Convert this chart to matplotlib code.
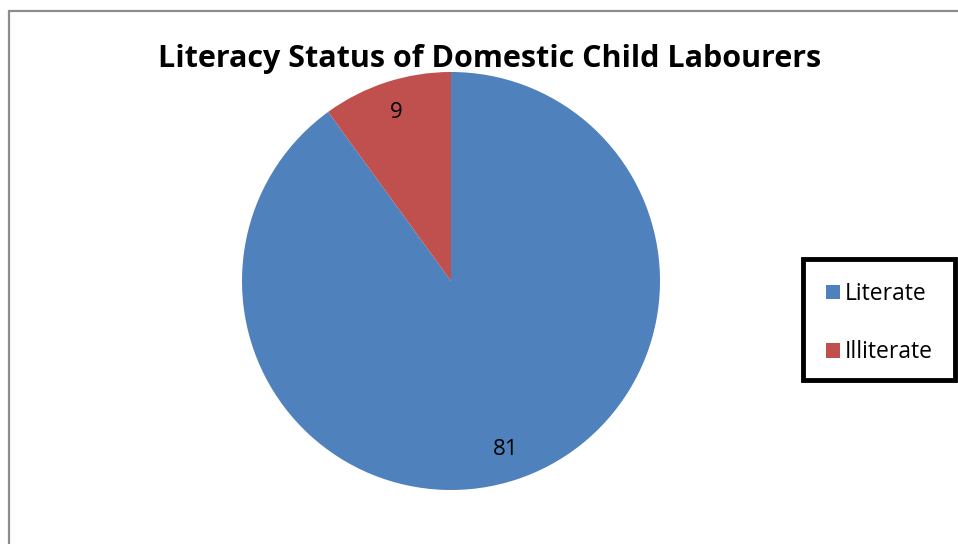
import matplotlib.pyplot as plt
from matplotlib.patches import Rectangle

# Literacy status counts
labels = ["Literate", "Illiterate"]
counts = [81, 9]
colors = ["#4F81BD", "#C0504D"]

title = "Literacy Status of Domestic Child Labourers"

W, H = 958, 544
fig = plt.figure(figsize=(W / 100, H / 100), dpi=100)
plt.rcParams["font.family"] = ["Open Sans", "DejaVu Sans"]

# chart border (gray, runs off the right and bottom edges)
fig.patches.append(Rectangle((9 / W, -0.05), 1.1, (H - 11) / H + 0.05,
                             transform=fig.transFigure, fill=False,
                             edgecolor="#8c8c8c", linewidth=1.6))

# pie axes: centre (451, 281) px, radius 209 px
cx, cy, r = 451, 281, 209
ax = fig.add_axes([(cx - r) / W, (H - cy - r) / H, 2 * r / W, 2 * r / H])
total = sum(counts)
wedges, _, autotexts = ax.pie(
    counts, colors=colors, startangle=90, counterclock=False, radius=1,
    autopct=lambda p: f"{round(p * total / 100)}", pctdistance=0.85,
    textprops={"fontsize": 16, "color": "black"},
    wedgeprops={"linewidth": 0},
)
ax.set_xlim(-1, 1)
ax.set_ylim(-1, 1)
ax.set_aspect("equal")

fig.text(490 / W, 1 - 59 / H, title, ha="center", va="center",
         fontsize=22, fontweight="bold")

# legend with thick black frame
fig.patches.append(Rectangle((803 / W, (H - 380) / H), 152 / W, 121 / H,
                             transform=fig.transFigure, fill=False,
                             edgecolor="black", linewidth=3.5))
fig.legend(wedges, labels, loc="upper left",
           bbox_to_anchor=(826 / W, 1 - 282 / H), frameon=False,
           fontsize=16.5, handlelength=0.62, handleheight=0.62,
           handletextpad=0.2, labelspacing=1.5, borderaxespad=0,
           borderpad=0)

fig.savefig("out.png", dpi=100)
